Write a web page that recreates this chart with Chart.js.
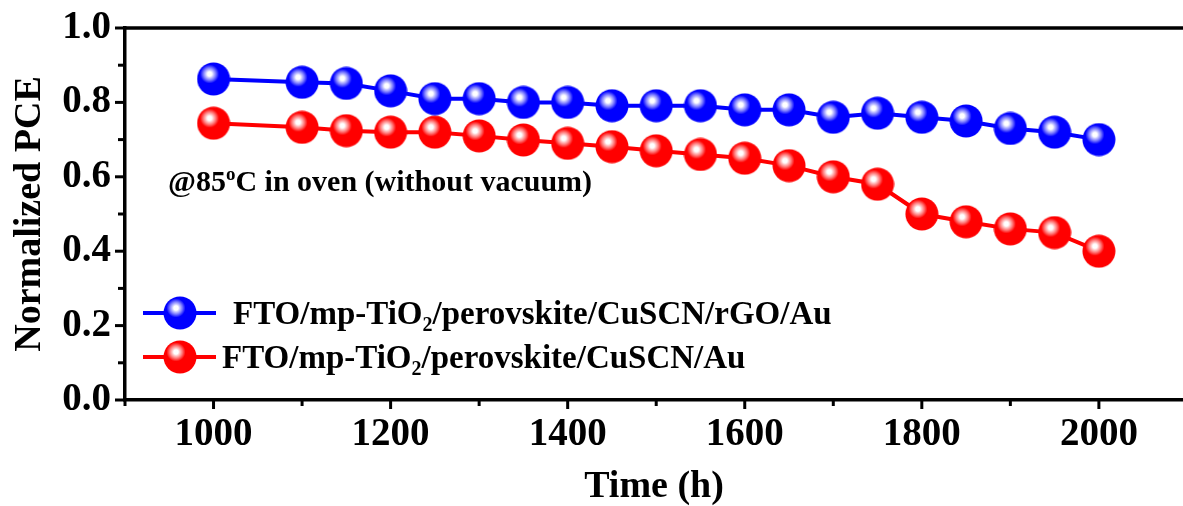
<!DOCTYPE html>
<html>
<head>
<meta charset="utf-8">
<script src="https://cdn.jsdelivr.net/npm/chart.js@4.4.0/dist/chart.umd.min.js"></script>
<style>
    html, body { margin: 0; padding: 0; background: #fff; }
    #wrap { width: 1183px; height: 506px; position: relative; }
</style>
</head>
<body>
<div id="wrap"><canvas id="chart"></canvas></div>
<script>
// Data
const hours = [1000, 1100, 1150, 1200, 1250, 1300, 1350, 1400, 1450, 1500, 1550, 1600, 1650, 1700, 1750, 1800, 1850, 1900, 1950, 2000];
const pceRgo = [0.863, 0.854, 0.851, 0.831, 0.810, 0.810, 0.800, 0.800, 0.791, 0.791, 0.791, 0.780, 0.780, 0.760, 0.771, 0.760, 0.750, 0.730, 0.720, 0.700];
const pceAu = [0.744, 0.733, 0.724, 0.720, 0.720, 0.710, 0.699, 0.690, 0.681, 0.670, 0.660, 0.650, 0.630, 0.600, 0.580, 0.500, 0.479, 0.460, 0.450, 0.400];

const xTicks = [900, 1000, 1100, 1200, 1300, 1400, 1500, 1600, 1700, 1800, 1900, 2000];
const xMajor = [1000, 1200, 1400, 1600, 1800, 2000];
const yTicks = [0.0, 0.1, 0.2, 0.3, 0.4, 0.5, 0.6, 0.7, 0.8, 0.9, 1.0];
const yMajor = ['0.0', '0.2', '0.4', '0.6', '0.8', '1.0'];

const legendRgo = ['FTO/mp-TiO', '2', '/perovskite/CuSCN/rGO/Au'];
const legendAu = ['FTO/mp-TiO', '2', '/perovskite/CuSCN/Au'];
const noteText = ['@85', 'o', 'C in oven (without vacuum)'];

const SERIF = '"Liberation Serif", "Times New Roman", serif';

// shiny ball marker
function makeBall(base, mid, light) {
    const size = 34;
    const c = document.createElement('canvas');
    c.width = size;
    c.height = size;
    const g = c.getContext('2d');
    const cx = size / 2, cy = size / 2;
    const hx = cx - 4, hy = cy - 5;
    const grad = g.createRadialGradient(hx, hy, 0, hx, hy, 10);
    grad.addColorStop(0, '#ffffff');
    grad.addColorStop(0.22, '#ffffff');
    grad.addColorStop(0.38, light);
    grad.addColorStop(0.62, mid);
    grad.addColorStop(0.95, base);
    grad.addColorStop(1, base);
    g.fillStyle = grad;
    g.beginPath();
    g.arc(cx, cy, 16.5, 0, Math.PI * 2);
    g.fill();
    return c;
}

const blueBall = makeBall('#0000ff', '#7a7aff', '#c8c8ff');
const redBall = makeBall('#ff0000', '#ff7a7a', '#ffc8c8');

function drawParts(ctx, parts, x, y, size, mode) {
    // parts[1] is a subscript or a superscript
    ctx.textAlign = 'left';
    ctx.textBaseline = 'alphabetic';
    ctx.font = 'bold ' + size + 'px ' + SERIF;
    ctx.fillText(parts[0], x, y);
    x += ctx.measureText(parts[0]).width;
    const small = Math.round(size * 0.62);
    ctx.font = 'bold ' + small + 'px ' + SERIF;
    const dy = mode === 'sub' ? size * 0.22 : -size * 0.38;
    ctx.fillText(parts[1], x, y + dy);
    x += ctx.measureText(parts[1]).width;
    ctx.font = 'bold ' + size + 'px ' + SERIF;
    ctx.fillText(parts[2], x, y);
}

const decorations = {
    id: 'decorations',
    afterDraw(chart) {
        const ctx = chart.ctx;
        const area = chart.chartArea;
        const xs = chart.scales.x;
        const ys = chart.scales.y;
        ctx.save();
        ctx.strokeStyle = '#000';
        ctx.lineWidth = 3.5;
        ctx.lineCap = 'butt';

        // top frame line
        ctx.beginPath();
        ctx.moveTo(area.left - 1.75, area.top);
        ctx.lineTo(area.right, area.top);
        ctx.stroke();

        // tick marks
        ctx.lineWidth = 3;
        xTicks.forEach(v => {
            const px = xs.getPixelForValue(v);
            const len = xMajor.includes(v) ? 9 : 6;
            ctx.beginPath();
            ctx.moveTo(px, area.bottom);
            ctx.lineTo(px, area.bottom + len);
            ctx.stroke();
        });
        yTicks.forEach(v => {
            const py = ys.getPixelForValue(v);
            const len = yMajor.includes(v.toFixed(1)) ? 10 : 7;
            ctx.beginPath();
            ctx.moveTo(area.left, py);
            ctx.lineTo(area.left - len, py);
            ctx.stroke();
        });

        // legend
        const rows = [
            { parts: legendRgo, color: '#0000ff', ball: blueBall, y: 313, tx: 233 },
            { parts: legendAu, color: '#ff0000', ball: redBall, y: 357, tx: 222 }
        ];
        rows.forEach(r => {
            ctx.strokeStyle = r.color;
            ctx.lineWidth = 4;
            ctx.beginPath();
            ctx.moveTo(143, r.y);
            ctx.lineTo(216, r.y);
            ctx.stroke();
            ctx.drawImage(r.ball, 180 - r.ball.width / 2, r.y - r.ball.height / 2);
            ctx.fillStyle = '#000';
            drawParts(ctx, r.parts, r.tx, r.y + 11, 33, 'sub');
        });

        // note
        ctx.fillStyle = '#000';
        drawParts(ctx, noteText, 168, 191, 30, 'sup');
        ctx.restore();
    }
};

const ctx = document.getElementById('chart').getContext('2d');
new Chart(ctx, {
    type: 'line',
    data: {
        datasets: [{
            label: 'FTO/mp-TiO2/perovskite/CuSCN/rGO/Au',
            data: hours.map((h, i) => ({ x: h, y: pceRgo[i] })),
            borderColor: '#0000ff',
            borderWidth: 4,
            pointStyle: blueBall,
            tension: 0
        }, {
            label: 'FTO/mp-TiO2/perovskite/CuSCN/Au',
            data: hours.map((h, i) => ({ x: h, y: pceAu[i] })),
            borderColor: '#ff0000',
            borderWidth: 4,
            pointStyle: redBall,
            tension: 0
        }]
    },
    options: {
        responsive: true,
        maintainAspectRatio: false,
        animation: false,
        clip: false,
        layout: { autoPadding: false, padding: { top: 28, right: 0, left: 0, bottom: 0 } },
        plugins: {
            legend: { display: false },
            tooltip: { enabled: false }
        },
        scales: {
            x: {
                type: 'linear',
                min: 900,
                max: 2095,
                afterBuildTicks: axis => {
                    axis.ticks = xTicks.map(v => ({ value: v }));
                },
                afterFit: axis => { axis.height = 106; },
                // tick marks are drawn by the plugin; transparent ones only make room for labels
                grid: { display: true, color: 'transparent', drawOnChartArea: false, drawTicks: true, tickLength: 12, tickColor: 'transparent' },
                border: { display: true, color: '#000', width: 3.5 },
                ticks: {
                    autoSkip: false,
                    maxRotation: 0,
                    padding: 0,
                    color: '#000',
                    font: { family: SERIF, size: 39, weight: 'bold' },
                    callback: v => xMajor.includes(v) ? String(v) : ''
                },
                title: {
                    display: true,
                    text: 'Time (h)',
                    color: '#000',
                    padding: 0,
                    font: { family: SERIF, size: 38, weight: 'bold', lineHeight: 1 }
                }
            },
            y: {
                min: 0,
                max: 1,
                afterBuildTicks: axis => {
                    axis.ticks = yTicks.map(v => ({ value: v }));
                },
                afterFit: axis => { axis.width = 125; },
                grid: { display: true, color: 'transparent', drawOnChartArea: false, drawTicks: true, tickLength: 14, tickColor: 'transparent' },
                border: { display: true, color: '#000', width: 3.5 },
                ticks: {
                    autoSkip: false,
                    padding: 0,
                    color: '#000',
                    font: { family: SERIF, size: 39, weight: 'bold' },
                    callback: v => yMajor.includes(v.toFixed(1)) ? v.toFixed(1) : ''
                },
                title: {
                    display: true,
                    text: 'Normalized PCE',
                    color: '#000',
                    padding: { top: 7, bottom: 0 },
                    font: { family: SERIF, size: 38, weight: 'bold' }
                }
            }
        }
    },
    plugins: [decorations]
});
</script>
</body>
</html>
